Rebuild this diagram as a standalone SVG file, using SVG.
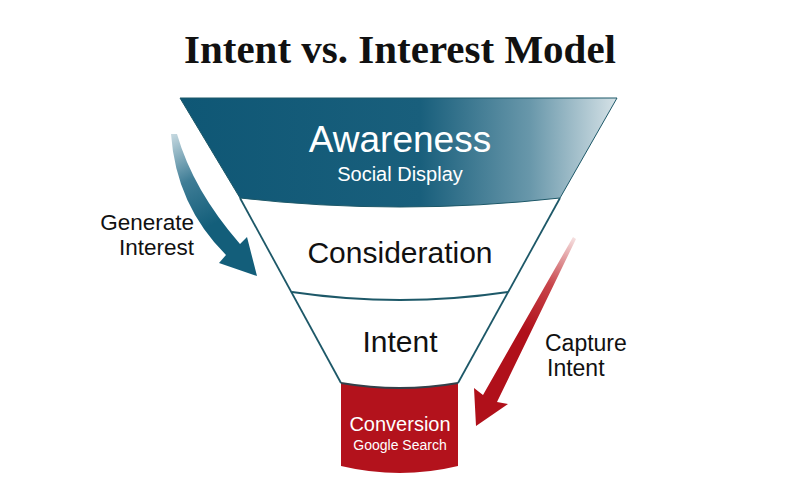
<svg xmlns="http://www.w3.org/2000/svg" width="800" height="500" viewBox="0 0 800 500">
  <defs>
    <linearGradient id="awareGrad" gradientUnits="userSpaceOnUse" x1="180" y1="0" x2="617" y2="0">
      <stop offset="0" stop-color="#0f5775"/>
      <stop offset="0.55" stop-color="#195f7c"/>
      <stop offset="0.8" stop-color="#6897aa"/>
      <stop offset="1" stop-color="#d6e2e7"/>
    </linearGradient>
    <linearGradient id="tealArrowGrad" gradientUnits="userSpaceOnUse" x1="172" y1="133" x2="228" y2="245">
      <stop offset="0" stop-color="#c9dbe2"/>
      <stop offset="0.4" stop-color="#3f7d96"/>
      <stop offset="0.8" stop-color="#135e7a"/>
    </linearGradient>
    <linearGradient id="redArrowGrad" gradientUnits="userSpaceOnUse" x1="574" y1="237" x2="495" y2="395">
      <stop offset="0" stop-color="#f6e2e2"/>
      <stop offset="0.3" stop-color="#c8454b"/>
      <stop offset="0.6" stop-color="#b0101a"/>
    </linearGradient>
    <style>
      .sans { font-family: "Liberation Sans", Arial, sans-serif; }
      .serif { font-family: "Liberation Serif", "Times New Roman", serif; }
      .edge { fill: none; stroke: #1d5868; stroke-width: 1.8; }
      .white { fill: #ffffff; }
      .dark { fill: #111111; }
    </style>
  </defs>

  <rect width="800" height="500" fill="#ffffff"/>

  <g id="title">
    <text class="serif" x="400" y="63" font-size="41" font-weight="bold" text-anchor="middle" fill="#111111">Intent vs. Interest Model</text>
  </g>

  <g id="connectors">
    <path id="generate-interest-arrow" d="M171,134 Q176,205 226,255 L219,263 L257,276 L247,237 L240,244 Q193,190 177,134 Z" fill="url(#tealArrowGrad)"/>
    <path id="capture-intent-arrow" d="M573,237 L576,239 L497,402 L508,404 L476,426 L474,388 L483,395 Z" fill="url(#redArrowGrad)"/>
  </g>

  <g id="funnel-edges">
    <path class="edge" d="M240,198 L341,383"/>
    <path class="edge" d="M560,198 L458,383"/>
  </g>

  <g id="awareness">
    <path d="M180,98 L617,98 L560,198 Q400,216 240,198 Z" fill="url(#awareGrad)" stroke="#1d5868" stroke-width="1"/>
    <text class="sans white" x="400" y="152" font-size="37" text-anchor="middle">Awareness</text>
    <text class="sans white" x="400" y="181" font-size="20" text-anchor="middle">Social Display</text>
  </g>

  <g id="consideration">
    <path class="edge" d="M292,292 Q400,308 508,292"/>
    <text class="sans dark" x="400" y="263" font-size="30" text-anchor="middle">Consideration</text>
  </g>

  <g id="intent">
    <text class="sans dark" x="400" y="352" font-size="30" text-anchor="middle">Intent</text>
  </g>

  <g id="conversion">
    <path d="M341,383 Q400,393 458,383 L458,466 Q400,480 341,466 Z" fill="#b3121c"/>
    <path d="M341,383 Q400,393 458,383" fill="none" stroke="#33404a" stroke-width="2"/>
    <text class="sans white" x="400" y="431" font-size="20" text-anchor="middle">Conversion</text>
    <text class="sans white" x="400" y="450" font-size="14" text-anchor="middle">Google Search</text>
  </g>

  <g id="labels">
    <text class="sans dark" x="194" y="230" font-size="22.5" text-anchor="end">Generate</text>
    <text class="sans dark" x="194" y="255" font-size="22.5" text-anchor="end">Interest</text>
    <text class="sans dark" x="545" y="351" font-size="23">Capture</text>
    <text class="sans dark" x="547" y="376" font-size="23">Intent</text>
  </g>
</svg>
